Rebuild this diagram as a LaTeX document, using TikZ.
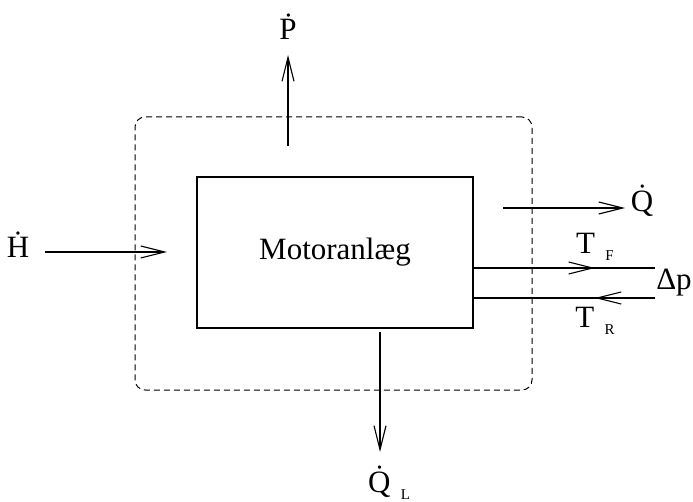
\documentclass[tikz,border=0pt]{standalone}
\usepackage{fontspec}
\setmainfont{Liberation Serif}
\usetikzlibrary{arrows.meta,decorations.markings}
\newcommand\lblfont{\fontsize{31}{34}\selectfont}
\newcommand\subfont{\fontsize{15}{16}\selectfont}
\tikzset{
  flow/.style={->, line width=1.1pt},
  lbl/.style={font=\lblfont, inner sep=0pt},
  midarrow/.style={postaction={decorate}, decoration={markings,
      mark=at position #1 with {\arrow{>}}}},
}

\begin{document}
\begin{tikzpicture}[x=1pt, y=-1pt, line width=1.1pt,
    >={Straight Barb[length=24pt,width=12pt,line width=1.1pt]}]
        \useasboundingbox (0,0) rectangle (693,502);
        % system boundary
        \node[draw, line width=1pt, dash pattern=on 6pt off 4pt,
          rounded corners=10pt, minimum width=397pt, minimum height=273pt]
          (sys) at (333.5,253.5) {};
        % the plant
        \node[draw, minimum width=276pt, minimum height=151pt, font=\lblfont]
          (motor) at (335,252.5) {Motoranlæg};
        % enthalpy in
        \node[lbl] (H) at (18,245) {\.H};
        \coordinate (hs) at (45,252);
        \coordinate (he) at (167,252);
        \draw[flow] (hs) -- (he);
        % power out
        \node[lbl] (P) at (288,27) {\.P};
        \coordinate (ps) at (288,146);
        \coordinate (pe) at (288,55);
        \draw[flow] (ps) -- (pe);
        % heat out
        \node[lbl] (Q) at (642,201) {\.Q};
        \coordinate (qs) at (503,208);
        \coordinate (qe) at (625,208);
        \draw[flow] (qs) -- (qe);
        % heat loss
        \node[lbl] (QL) at (389,483)
          {\.Q\,\,\raisebox{-0.5ex}{\subfont L}};
        \coordinate (ls) at (380,332);
        \coordinate (le) at (380,452);
        \draw[flow] (ls) -- (le);
        % forward and return lines
        \coordinate (fs) at (473,268);
        \coordinate (fe) at (655,268);
        \coordinate (rs) at (655,298);
        \coordinate (re) at (473,298);
        \draw[midarrow=0.67] (fs) -- (fe);
        \draw[midarrow=0.33] (rs) -- (re);
        \node[lbl] (TF) at (595,247) {T\,\,\raisebox{-0.5ex}{\subfont F}};
        \node[lbl] (TR) at (595,321) {T\,\,\raisebox{-0.5ex}{\subfont R}};
        \node[lbl] (dp) at (674,283) {Δp};
      \end{tikzpicture}
\end{document}
